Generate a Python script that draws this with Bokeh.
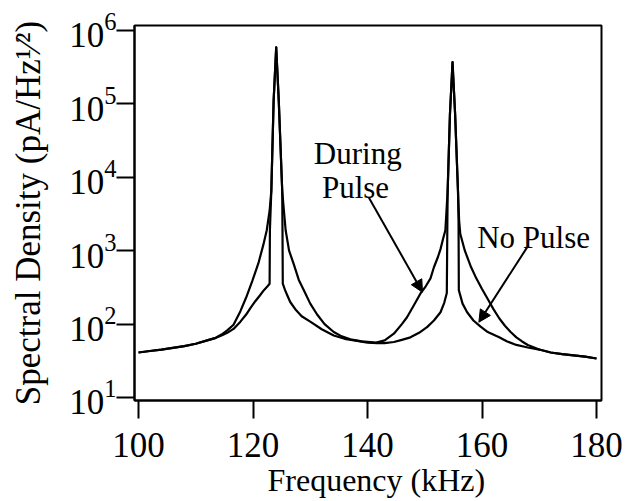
from bokeh.plotting import figure
from bokeh.models import Range1d, FixedTicker, LogTickFormatter, Label, Arrow, NormalHead, Title
from bokeh.embed import file_html
from bokeh.resources import INLINE

# ---- data ----
x_ticks = [100, 120, 140, 160, 180]
y_ticks = [10, 100, 1000, 10000, 100000, 1000000]

during_freq = [100, 102, 104, 106, 108, 110, 112, 113.5, 114.5, 115.5, 116.6, 117.8,
               118.8, 119.9, 121.0, 121.8, 122.4, 122.9, 123.2, 123.6, 124.05, 124.5,
               125.1, 125.4, 125.7, 126.3, 127.1, 128.0, 128.9, 130.0, 131.2, 132.5,
               134.1, 135.5, 137.0, 139.0, 141.5, 143.0, 144.6, 146.0, 146.9, 148.0,
               149.3, 150.2, 151.0, 151.6, 152.3, 152.75, 153.2, 153.6, 154.0, 154.4,
               154.85, 155.3, 155.8, 156.0, 156.2, 157.0, 158.0, 159.0, 160.0, 161.0,
               162.0, 163.0, 164.0, 165.0, 166.0, 167.0, 168.0, 170.0, 172.0, 174.0,
               176.0, 178.0, 180.0]
during_density = [41, 43, 45, 47.5, 50, 54, 60, 65, 72, 82, 98, 150,
                  230, 390, 700, 1200, 1900, 3500, 6600, 110000, 590000, 110000,
                  6600, 3500, 1900, 1000, 662, 400, 287, 190, 135, 100,
                  78, 68, 62, 58, 56, 60, 74, 100, 124, 175,
                  265, 330, 420, 595, 820, 1050, 1450, 1900, 6600, 73000,
                  370000, 73000, 6600, 2600, 1700, 1000, 620, 420, 300, 220,
                  160, 120, 95, 78, 66, 58, 52, 45, 41, 39,
                  37.5, 36, 34]

nopulse_freq = [100, 102, 104, 106, 108, 110, 112, 113.5, 114.5, 115.5, 116.6, 117.8,
                118.8, 119.6, 120.4, 121.2, 121.9, 122.5, 122.9, 122.95, 123.2, 123.6,
                124.05, 124.5, 125.1, 125.15, 125.2, 125.6, 126.0, 126.5, 127.5, 128.5,
                130.0, 132.0, 134.1, 136.0, 138.2, 140.0, 141.7, 143.0, 144.6, 146.0,
                147.5, 149.0, 150.4, 151.6, 152.75, 153.4, 153.85, 153.95, 154.0, 154.4,
                154.85, 155.3, 155.8, 155.9, 155.95, 156.6, 157.4, 158.5, 159.7, 161.0,
                163.0, 164.4, 166.0, 168.0, 170.0, 172.0, 174.0, 176.0, 178.0, 180.0]
nopulse_density = [41, 43, 45, 47.5, 50, 54, 60, 65, 70, 76, 86, 108,
                   135, 168, 205, 245, 290, 325, 355, 1900, 6600, 110000,
                   590000, 110000, 6600, 1900, 355, 290, 245, 200, 155, 128,
                   108, 85, 70, 63, 59, 56, 55, 55, 57, 61,
                   66, 76, 91, 112, 145, 195, 265, 2500, 6600, 73000,
                   370000, 73000, 6600, 2500, 290, 190, 145, 112, 93, 78,
                   66, 58, 52, 48, 45, 41, 39, 37.5, 36, 34]

# ---- figure ----
FONT = "Liberation Serif"
p = figure(width=629, height=501, y_axis_type="log",
           x_range=Range1d(99.3, 180.87), y_range=Range1d(10 ** 0.959, 10 ** 6.068),
           output_backend="svg", toolbar_location=None,
           min_border_left=134, min_border_right=28, min_border_top=25, min_border_bottom=101)
p.background_fill_color = "white"
p.border_fill_color = "white"
p.outline_line_color = "black"
p.outline_line_width = 2
p.grid.visible = False

for ax in (p.xaxis[0], p.yaxis[0]):
    ax.axis_line_width = 2
    ax.major_tick_line_width = 2
    ax.major_tick_out = 18
    ax.major_tick_in = 0
    ax.minor_tick_line_color = None
    ax.major_label_text_font = FONT
    ax.major_label_text_font_size = "35px"
    ax.major_label_text_color = "black"

p.xaxis.ticker = FixedTicker(ticks=x_ticks)
p.yaxis.ticker = FixedTicker(ticks=y_ticks)
p.yaxis.formatter = LogTickFormatter()
p.xaxis.major_label_standoff = 14
p.yaxis.major_label_standoff = 0

p.yaxis.axis_label = "Spectral Density (pA/Hz\u00b9\u2044\u00b2)"
p.yaxis.axis_label_text_font = FONT
p.yaxis.axis_label_text_font_size = "35px"
p.yaxis.axis_label_text_font_style = "normal"
p.yaxis.axis_label_text_color = "black"
p.yaxis.axis_label_standoff = 18

p.add_layout(Title(text="Frequency (kHz)", align="left", offset=133, standoff=0,
                   text_font=FONT, text_font_size="32px", text_font_style="normal",
                   text_color="black"), "below")

p.line(during_freq, during_density, line_color="black", line_width=2.2, line_join="round")
p.line(nopulse_freq, nopulse_density, line_color="black", line_width=2.2, line_join="round")

# annotations
p.add_layout(Label(x=138.3, y=2.13e4, text="During", text_font=FONT, text_font_size="31px",
                   text_align="center", text_baseline="alphabetic", text_color="black"))
p.add_layout(Label(x=137.9, y=7330, text="Pulse", text_font=FONT, text_font_size="31px",
                   text_align="center", text_baseline="alphabetic", text_color="black"))
p.add_layout(Label(x=169.0, y=1528, text="No Pulse", text_font=FONT, text_font_size="31px",
                   text_align="center", text_baseline="alphabetic", text_color="black"))

p.add_layout(Arrow(end=NormalHead(size=12, fill_color="black", line_color="black"),
                   x_start=140.2, y_start=5360, x_end=149.6, y_end=272,
                   line_width=2, line_color="black"))
p.add_layout(Arrow(end=NormalHead(size=12, fill_color="black", line_color="black"),
                   x_start=167.9, y_start=1117, x_end=159.45, y_end=106,
                   line_width=2, line_color="black"))

open("out.html", "w").write(file_html(p, INLINE))
